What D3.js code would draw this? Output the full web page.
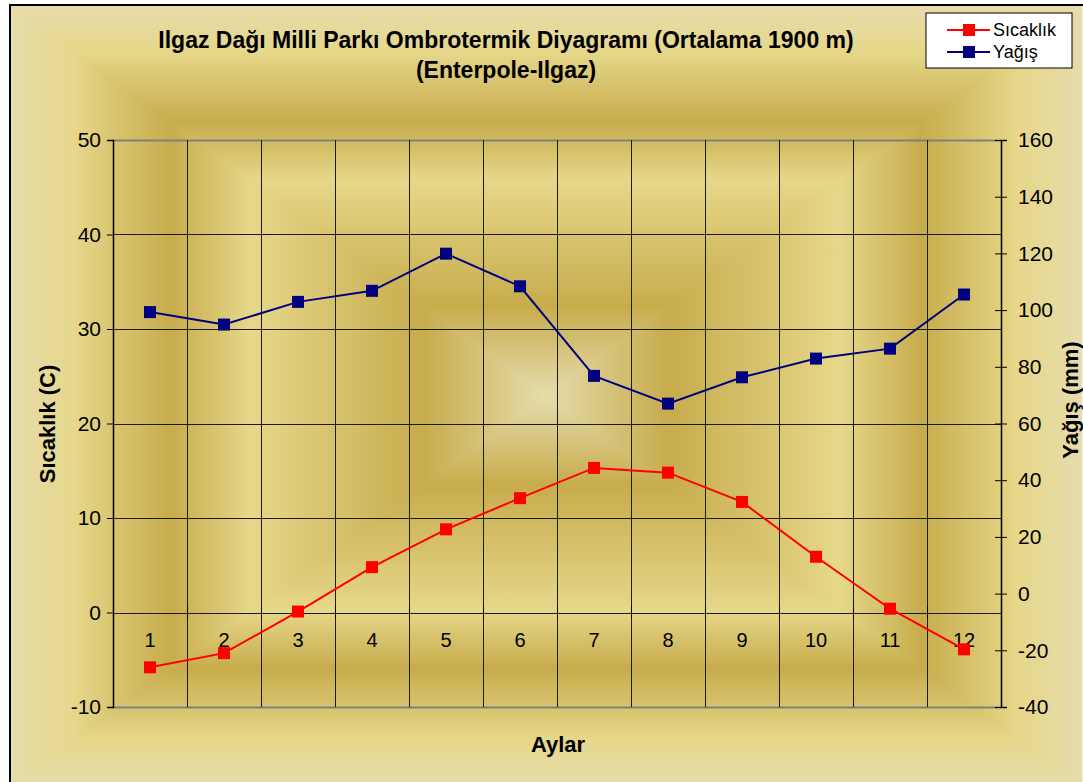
<!DOCTYPE html>
<html>
<head>
<meta charset="utf-8">
<script src="https://cdn.jsdelivr.net/npm/d3@7"></script>
<style>
  body { margin: 0; background: #fff; }
  svg { display: block; font-family: "Liberation Sans", Arial, sans-serif; }
</style>
</head>
<body>
<script>
// data
const months = [1, 2, 3, 4, 5, 6, 7, 8, 9, 10, 11, 12];
const temperature = [-5.8, -4.3, 0.1, 4.8, 8.8, 12.1, 15.3, 14.8, 11.7, 5.9, 0.4, -3.9];
const precipitation = [99.3, 94.9, 102.9, 106.8, 119.9, 108.4, 76.8, 67.0, 76.3, 82.9, 86.4, 105.5];
const leftTicks = [-10, 0, 10, 20, 30, 40, 50];
const rightTicks = [-40, -20, 0, 20, 40, 60, 80, 100, 120, 140, 160];

const width = 1083;
const height = 782;
const plot = { left: 113, right: 1001, top: 140, bottom: 707 };

const svg = d3.select('body').append('svg')
    .attr('width', width)
    .attr('height', height);

const defs = svg.append('defs');

// chart area: rectangular "from center" gold gradient, built from 4 triangles
const area = { x0: 10, y0: 5, x1: 1082, y1: 786 };
const cx = (area.x0 + area.x1) / 2;
const cy = (area.y0 + area.y1) / 2;
const goldStops = [
    [0, '#E6DCAC'], [0.23, '#C7AC4C'], [0.55, '#E6D78A'],
    [0.70, '#C7AC4C'], [0.88, '#E6D78A'], [1, '#E6DCAC']
];
const sides = [
    { id: 'gTop', x2: cx, y2: area.y0, pts: [[area.x0, area.y0], [area.x1, area.y0], [cx, cy]] },
    { id: 'gBot', x2: cx, y2: area.y1, pts: [[area.x0, area.y1], [area.x1, area.y1], [cx, cy]] },
    { id: 'gLeft', x2: area.x0, y2: cy, pts: [[area.x0, area.y0], [area.x0, area.y1], [cx, cy]] },
    { id: 'gRight', x2: area.x1, y2: cy, pts: [[area.x1, area.y0], [area.x1, area.y1], [cx, cy]] }
];
sides.forEach(s => {
    const lg = defs.append('linearGradient')
        .attr('id', s.id)
        .attr('gradientUnits', 'userSpaceOnUse')
        .attr('x1', cx).attr('y1', cy)
        .attr('x2', s.x2).attr('y2', s.y2);
    goldStops.forEach(st => lg.append('stop').attr('offset', st[0]).attr('stop-color', st[1]));
});
svg.append('rect')
    .attr('x', area.x0).attr('y', area.y0)
    .attr('width', area.x1 - area.x0).attr('height', area.y1 - area.y0)
    .attr('fill', '#D9C674');
svg.selectAll('path.bg')
    .data(sides)
    .enter()
    .append('path')
    .attr('class', 'bg')
    .attr('d', d => 'M' + d.pts.map(p => p.join(',')).join('L') + 'Z')
    .attr('fill', d => 'url(#' + d.id + ')')
    .attr('stroke', d => 'url(#' + d.id + ')')
    .attr('stroke-width', 0.6);
// chart border
svg.append('rect')
    .attr('x', area.x0).attr('y', area.y0)
    .attr('width', area.x1 - area.x0 + 20).attr('height', area.y1 - area.y0 + 20)
    .attr('fill', 'none')
    .attr('stroke', '#000')
    .attr('stroke-width', 2);

// scales
const x = d3.scaleBand().domain(months).range([plot.left, plot.right]);
const yL = d3.scaleLinear().domain([-10, 50]).range([plot.bottom, plot.top]);
const yR = d3.scaleLinear().domain([-40, 160]).range([plot.bottom, plot.top]);

// grid lines
const grid = svg.append('g').attr('class', 'grid');
grid.selectAll('line.h')
    .data(leftTicks)
    .enter()
    .append('line')
    .attr('x1', plot.left).attr('x2', plot.right)
    .attr('y1', d => Math.round(yL(d)) + 0.5).attr('y2', d => Math.round(yL(d)) + 0.5)
    .attr('stroke', d => (d === -10 || d === 50) ? '#808080' : '#1a1a1a')
    .attr('stroke-width', d => (d === -10 || d === 50) ? 2 : 1);
grid.selectAll('line.v')
    .data(months.slice(1))
    .enter()
    .append('line')
    .attr('x1', d => Math.round(x(d)) + 0.5).attr('x2', d => Math.round(x(d)) + 0.5)
    .attr('y1', plot.top).attr('y2', plot.bottom)
    .attr('stroke', '#1a1a1a')
    .attr('stroke-width', 1);

const plain = d => String(d);

// left axis
const gL = svg.append('g')
    .attr('transform', 'translate(' + plot.left + ',0)')
    .call(d3.axisLeft(yL).tickValues(leftTicks).tickFormat(plain).tickSize(6).tickPadding(6));
gL.select('.domain').attr('stroke', '#000').attr('stroke-width', 1.5);
gL.selectAll('text').style('font-size', '21px').attr('fill', '#000');

// right axis
const gR = svg.append('g')
    .attr('transform', 'translate(' + plot.right + ',0)')
    .call(d3.axisRight(yR).tickValues(rightTicks).tickFormat(plain).tickSize(6).tickPadding(11));
gR.select('.domain').attr('stroke', '#000').attr('stroke-width', 1.5);
gR.selectAll('.tick line').attr('x1', -6);
gR.selectAll('text').style('font-size', '21px').attr('fill', '#000');

// category axis crossing at 0
const gX = svg.append('g')
    .attr('transform', 'translate(0,' + yL(0) + ')')
    .call(d3.axisBottom(x).tickSize(0).tickPadding(20));
gX.select('.domain').remove();
gX.selectAll('text').style('font-size', '20px').attr('fill', '#000');
gX.selectAll('line.cross')
    .data(months.slice(1))
    .enter()
    .append('line')
    .attr('class', 'cross')
    .attr('x1', d => Math.round(x(d)) + 0.5).attr('x2', d => Math.round(x(d)) + 0.5)
    .attr('y1', -6).attr('y2', 6)
    .attr('stroke', '#000');

// series
const line = d3.line();
const series = [
    { name: 'Sıcaklık', color: '#FF0000', values: temperature, scale: yL },
    { name: 'Yağış', color: '#000080', values: precipitation, scale: yR }
];
series.forEach(s => {
    const pts = months.map((m, i) => [x(m) + x.bandwidth() / 2, s.scale(s.values[i])]);
    svg.append('path')
        .attr('d', line(pts))
        .attr('fill', 'none')
        .attr('stroke', s.color)
        .attr('stroke-width', 2);
    svg.selectAll(null)
        .data(pts)
        .enter()
        .append('rect')
        .attr('x', d => d[0] - 6).attr('y', d => d[1] - 6)
        .attr('width', 12).attr('height', 12)
        .attr('fill', s.color);
});

// title
const title = svg.append('text')
    .attr('text-anchor', 'middle')
    .style('font-size', '23px')
    .style('font-weight', 'bold');
title.append('tspan').attr('x', 506).attr('y', 48)
    .text('Ilgaz Dağı Milli Parkı Ombrotermik Diyagramı (Ortalama 1900 m)');
title.append('tspan').attr('x', 506).attr('y', 78)
    .text('(Enterpole-Ilgaz)');

// axis titles
svg.append('text')
    .attr('transform', 'translate(55,424) rotate(-90)')
    .attr('text-anchor', 'middle')
    .style('font-size', '22px')
    .style('font-weight', 'bold')
    .text('Sıcaklık (C)');
svg.append('text')
    .attr('transform', 'translate(1078,400) rotate(-90)')
    .attr('text-anchor', 'middle')
    .style('font-size', '22px')
    .style('font-weight', 'bold')
    .text('Yağış (mm)');
svg.append('text')
    .attr('x', 558).attr('y', 752)
    .attr('text-anchor', 'middle')
    .style('font-size', '22px')
    .style('font-weight', 'bold')
    .text('Aylar');

// legend
const legend = svg.append('g').attr('transform', 'translate(926,13)');
legend.append('rect')
    .attr('width', 146).attr('height', 55)
    .attr('fill', '#fff')
    .attr('stroke', '#000');
series.forEach((s, i) => {
    const ly = 17 + i * 22;
    legend.append('line')
        .attr('x1', 21).attr('x2', 64)
        .attr('y1', ly).attr('y2', ly)
        .attr('stroke', s.color).attr('stroke-width', 2);
    legend.append('rect')
        .attr('x', 37).attr('y', ly - 6)
        .attr('width', 12).attr('height', 12)
        .attr('fill', s.color);
    legend.append('text')
        .attr('x', 67).attr('y', ly + 6)
        .style('font-size', '18px')
        .text(s.name);
});
</script>
</body>
</html>
